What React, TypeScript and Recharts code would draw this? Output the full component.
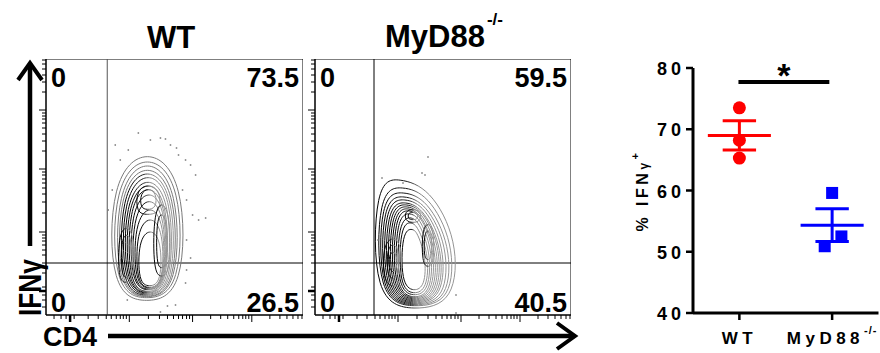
import React from 'react';
import {
  ComposedChart,
  Scatter,
  XAxis,
  YAxis,
  ReferenceLine,
  ReferenceArea,
} from 'recharts';

const FONT = '"Liberation Sans", Arial, Helvetica, sans-serif';

// ---- flow panels (channel units 0-256 on both axes) ----
const flowMajorTicks = [24, 83, 146, 205];
const flowMinorTicks = [
  8, 15, 20, 28, 42, 52, 60, 65, 70, 74, 77, 80,
  102, 113, 121, 127, 132, 136, 140, 143,
  164, 174, 181, 187, 192, 196, 199, 202,
  223, 233, 240, 246, 251, 255,
];
const flowTicks = [...flowMajorTicks, ...flowMinorTicks].sort((a, b) => a - b);

// contour rings (x = CD4, y = IFNγ)
const wtContours = [
  [[101, 169], [138, 137], [138, 22], [100, 11], [64, 22], [64, 137]],
  [[101, 163], [135, 133], [135, 24], [100, 14], [67, 24], [67, 133]],
  [[101, 159], [132, 129], [132, 25], [100, 15], [70, 25], [70, 129]],
  [[101, 154], [130, 126], [130, 25], [100, 16], [72, 25], [72, 126]],
  [[101, 150], [128, 123], [128, 26], [100, 17], [74, 26], [74, 123]],
  [[102, 146], [126, 120], [126, 27], [101, 18], [76, 27], [76, 120]],
  [[102, 141], [124, 116], [124, 28], [101, 19], [78, 28], [78, 116]],
  [[102, 137], [122, 113], [122, 28], [101, 20], [80, 28], [80, 113]],
  [[102, 133], [121, 110], [121, 29], [101, 21], [82, 29], [82, 110]],
  [[103, 127], [120, 106], [120, 30], [102, 23], [84, 30], [84, 106]],
  [[103, 120], [119, 100], [119, 30], [102, 24], [86, 30], [86, 100]],
  [[104, 111], [118, 93], [118, 31], [103, 25], [88, 31], [88, 93]],
  [[104, 100], [117, 85], [117, 31], [103, 26], [90, 31], [90, 85]],
  [[104, 87], [115, 75], [115, 32], [103, 28], [92, 32], [92, 75]],
  [[102, 131], [114, 125], [114, 102], [101, 100], [90, 102], [90, 125]],
  [[102, 127], [110, 122], [110, 107], [101, 105], [94, 107], [94, 122]],
  [[80, 90], [88, 80], [88, 36], [79, 31], [72, 36], [72, 80]],
  [[80, 82], [86, 75], [86, 40], [80, 36], [75, 40], [75, 75]],
  [[115, 115], [124, 100], [124, 43], [115, 37], [107, 43], [107, 100]],
  [[115, 103], [121, 94], [121, 50], [115, 46], [110, 50], [110, 94]],
];
const wtGrayRings = 4;

const wtOutliers = [
  [92, 182], [104, 175], [114, 177], [119, 176], [124, 170], [130, 167], [132, 160],
  [139, 155], [144, 150], [149, 140], [136, 125], [140, 115], [146, 100], [152, 95],
  [159, 97], [140, 75], [144, 57], [140, 45], [139, 32], [129, 10], [114, 3], [81, 15],
  [69, 170], [82, 165], [74, 155], [66, 125], [62, 105], [121, 9],
];

const myd88Contours = [
  [[84, 137], [115, 127], [143, 75], [140, 12], [99, 4], [58, 14], [60, 134]],
  [[87, 129], [113, 121], [139, 73], [137, 13], [99, 7], [62, 15], [63, 125]],
  [[88, 124], [112, 116], [136, 70], [134, 14], [99, 8], [64, 16], [65, 120]],
  [[89, 120], [111, 112], [133, 69], [131, 15], [99, 9], [66, 17], [67, 116]],
  [[90, 117], [110, 109], [130, 68], [128, 16], [99, 10], [68, 18], [69, 113]],
  [[91, 114], [109, 106], [128, 66], [126, 17], [99, 11], [70, 19], [71, 110]],
  [[92, 112], [109, 104], [126, 66], [124, 18], [99, 12], [72, 20], [73, 108]],
  [[93, 110], [108, 102], [124, 65], [122, 19], [99, 13], [74, 21], [75, 106]],
  [[94, 108], [107, 100], [122, 64], [120, 20], [99, 14], [76, 22], [77, 104]],
  [[95, 106], [107, 98], [120, 64], [118, 21], [99, 15], [78, 23], [79, 102]],
  [[96, 103], [106, 95], [118, 63], [116, 22], [99, 16], [80, 24], [81, 99]],
  [[97, 99], [105, 91], [116, 61], [114, 24], [99, 18], [82, 26], [83, 95]],
  [[97, 94], [104, 86], [114, 59], [112, 26], [99, 20], [84, 28], [85, 90]],
  [[98, 87], [103, 81], [111, 57], [110, 29], [99, 23], [86, 31], [87, 84]],
  [[98, 106], [106, 104], [106, 94], [98, 92], [90, 94], [90, 104]],
  [[98, 103], [103, 102], [103, 96], [98, 95], [93, 96], [93, 102]],
  [[78, 79], [87, 70], [87, 34], [78, 27], [68, 34], [68, 70]],
  [[78, 72], [84, 66], [84, 40], [78, 35], [72, 40], [72, 66]],
  [[78, 64], [82, 60], [82, 46], [78, 42], [74, 46], [74, 60]],
  [[113, 93], [119, 85], [119, 52], [113, 47], [107, 52], [107, 85]],
  [[113, 86], [117, 80], [117, 58], [113, 54], [109, 58], [109, 80]],
];
const myd88GrayRings = 0;

const myd88Outliers = [
  [113, 158], [107, 142], [110, 140], [67, 137], [88, 132], [141, 20], [141, 2], [63, 75],
];

const wtGate = { x: 61, y: 52 };
const myd88Gate = { x: 59, y: 52 };
const wtQuadrants = ['0', '73.5', '0', '26.5'];
const myd88Quadrants = ['0', '59.5', '0', '40.5'];

// ---- summary dot plot ----
const groupPositions = [1, 2];
const groupLabels = ['WT', 'MyD88'];
const groupSuperscripts = ['', '-/-'];
const wtValues = [73.5, 68.2, 65.3];
const wtX = [1, 1, 1];
const myd88Values = [59.6, 52.5, 50.9];
const myd88X = [2.0, 2.1, 1.92];
const yTicks = [40, 50, 60, 70, 80];
const sigBar = { from: 0.99, to: 1.97, y: 77.7 };

const toPoints = (ring: number[][]) => ring.map(([x, y]) => ({ x, y }));

const mean = (v: number[]) => v.reduce((a, b) => a + b, 0) / v.length;
const sem = (v: number[]) => {
  const m = mean(v);
  const sd = Math.sqrt(v.reduce((a, b) => a + (b - m) * (b - m), 0) / (v.length - 1));
  return sd / Math.sqrt(v.length);
};

const FlowTickX = (props: any) => {
  const { x, y, payload } = props;
  const major = flowMajorTicks.includes(payload.value);
  return (
    <line x1={x} x2={x} y1={y} y2={y + (major ? 7 : 4)} stroke="#000"
      strokeWidth={payload.value === 24 ? 2.5 : 1} />
  );
};

const FlowTickY = (props: any) => {
  const { x, y, payload } = props;
  const major = flowMajorTicks.includes(payload.value);
  return (
    <line x1={x - (major ? 7 : 4)} x2={x} y1={y} y2={y} stroke="#000"
      strokeWidth={payload.value === 24 ? 2.5 : 1} />
  );
};

const OutlierDot = (props: any) => (
  <rect x={props.cx - 0.75} y={props.cy - 0.75} width={1.5} height={1.5} fill="#777" />
);

const quadStyle = { fontFamily: FONT, fontWeight: 700, fontSize: 27, fill: '#000' };

const FlowPanel = ({ left, width, contours, grayRings, outliers, gate, quadrants, gradId, vGateColor }: any) => (
  <div style={{ position: 'absolute', left, top: 59 }}>
    <ComposedChart width={width} height={266} margin={{ top: 0, right: 0, bottom: 0, left: 0 }}>
      <defs>
        <linearGradient id={gradId} x1="0" y1="0" x2="1" y2="0">
          <stop offset="0%" stopColor="#000" />
          <stop offset="40%" stopColor="#1a1a1a" />
          <stop offset="56%" stopColor="#858585" />
          <stop offset="100%" stopColor="#959595" />
        </linearGradient>
      </defs>
      <XAxis
        type="number"
        dataKey="x"
        domain={[0, 256]}
        ticks={flowTicks}
        interval={0}
        tickSize={0}
        tickMargin={0}
        tickLine={false}
        tick={<FlowTickX />}
        height={10}
        axisLine={{ stroke: '#000' }}
        allowDataOverflow
      />
      <YAxis
        type="number"
        dataKey="y"
        domain={[0, 256]}
        ticks={flowTicks}
        interval={0}
        tickSize={0}
        tickMargin={0}
        tickLine={false}
        tick={<FlowTickY />}
        width={10}
        axisLine={{ stroke: '#000' }}
        allowDataOverflow
      />
      {contours.map((ring: number[][], i: number) => (
        <Scatter
          key={i}
          data={toPoints(ring)}
          line={{ stroke: i < grayRings ? '#7a7a7a' : `url(#${gradId})`, strokeWidth: 1 }}
          lineJointType="basisClosed"
          shape={() => <g />}
          isAnimationActive={false}
        />
      ))}
      <Scatter data={toPoints(outliers)} shape={<OutlierDot />} isAnimationActive={false} />
      <ReferenceLine x={gate.x} stroke={vGateColor} strokeWidth={1} />
      <ReferenceLine y={gate.y} stroke="#000" strokeWidth={1} />
      <ReferenceArea
        x1={0}
        x2={256}
        y1={0}
        y2={256}
        fill="none"
        fillOpacity={0}
        stroke="#000"
        strokeWidth={1}
        label={(p: any) => {
          const vb = p.viewBox;
          return (
            <g>
              <text x={vb.x + 5} y={vb.y + 28} {...quadStyle}>{quadrants[0]}</text>
              <text x={vb.x + vb.width - 4} y={vb.y + 28} textAnchor="end" {...quadStyle}>{quadrants[1]}</text>
              <text x={vb.x + 5} y={vb.y + vb.height - 3} {...quadStyle}>{quadrants[2]}</text>
              <text x={vb.x + vb.width - 4} y={vb.y + vb.height - 3} textAnchor="end" {...quadStyle}>{quadrants[3]}</text>
            </g>
          );
        }}
      />
    </ComposedChart>
  </div>
);

const GroupTick = (props: any) => {
  const { x, y, payload } = props;
  const i = groupPositions.indexOf(payload.value);
  return (
    <text x={x} y={y + 24} textAnchor="middle" fontFamily={FONT} fontWeight={700} fontSize={17}
      fill="#000" style={{ letterSpacing: 4.5 }}>
      {groupLabels[i]}
      {groupSuperscripts[i] && (
        <tspan fontSize={11} dy={-10} style={{ letterSpacing: 1 }}>{groupSuperscripts[i]}</tspan>
      )}
    </text>
  );
};

const ValueTick = (props: any) => {
  const { x, y, payload } = props;
  return (
    <text x={x} y={y} dy={7} textAnchor="end" fontFamily={FONT} fontWeight={700} fontSize={18}
      fill="#000" style={{ letterSpacing: 4 }}>
      {payload.value}
    </text>
  );
};

const meanSemLines = (center: number, values: number[], color: string, key: string) => {
  const m = mean(values);
  const s = sem(values);
  return [
    <ReferenceLine key={key + 'm'} segment={[{ x: center - 0.34, y: m }, { x: center + 0.34, y: m }]} stroke={color} strokeWidth={3} />,
    <ReferenceLine key={key + 'u'} segment={[{ x: center - 0.18, y: m + s }, { x: center + 0.18, y: m + s }]} stroke={color} strokeWidth={3} />,
    <ReferenceLine key={key + 'l'} segment={[{ x: center - 0.18, y: m - s }, { x: center + 0.18, y: m - s }]} stroke={color} strokeWidth={3} />,
    <ReferenceLine key={key + 'v'} segment={[{ x: center, y: m - s }, { x: center, y: m + s }]} stroke={color} strokeWidth={3} />,
  ];
};

const DotPlot = () => {
  const wtData = wtValues.map((v, i) => ({ x: wtX[i], y: v }));
  const myd88Data = myd88Values.map((v, i) => ({ x: myd88X[i], y: v }));
  return (
    <div style={{ position: 'absolute', left: 600, top: 40 }}>
      <ComposedChart width={280} height={313} margin={{ top: 28, right: 1.5, bottom: 0, left: 0 }}>
        <XAxis
          type="number"
          dataKey="x"
          domain={[0.5, 2.5]}
          ticks={groupPositions}
          interval={0}
          height={40}
          tickSize={7}
          tickMargin={0}
          tick={<GroupTick />}
          axisLine={{ stroke: '#000', strokeWidth: 3 }}
          tickLine={{ stroke: '#000', strokeWidth: 2.5 }}
        />
        <YAxis
          type="number"
          dataKey="y"
          domain={[40, 80]}
          ticks={yTicks}
          interval={0}
          width={93}
          tickSize={7}
          tickMargin={1}
          tick={<ValueTick />}
          axisLine={{ stroke: '#000', strokeWidth: 3 }}
          tickLine={{ stroke: '#000', strokeWidth: 2.5 }}
          label={(p: any) => {
            const vb = p.viewBox;
            const cx = vb.x + 48;
            const cy = vb.y + vb.height / 2;
            return (
              <text x={cx} y={cy} transform={`rotate(-90, ${cx}, ${cy})`} textAnchor="middle"
                fontFamily={FONT} fontWeight={700} fontSize={16} fill="#000" style={{ letterSpacing: 3.5 }}>
                % IFN<tspan fontSize={12}>γ</tspan>
                <tspan fontSize={11} dy={-9}>+</tspan>
              </text>
            );
          }}
        />
        {meanSemLines(1, wtValues, '#ff0000', 'wt')}
        {meanSemLines(2, myd88Values, '#0000ff', 'ko')}
        <ReferenceLine
          segment={[{ x: sigBar.from, y: sigBar.y }, { x: sigBar.to, y: sigBar.y }]}
          stroke="#000"
          strokeWidth={4}
          label={(p: any) => {
            const vb = p.viewBox;
            return (
              <text x={vb.x + vb.width / 2} y={vb.y + 5} textAnchor="middle" fontFamily={FONT}
                fontWeight={700} fontSize={34} fill="#000">*</text>
            );
          }}
        />
        <Scatter
          data={wtData}
          isAnimationActive={false}
          shape={(p: any) => <circle cx={p.cx} cy={p.cy} r={6.5} fill="#ff0000" />}
        />
        <Scatter
          data={myd88Data}
          isAnimationActive={false}
          shape={(p: any) => <rect x={p.cx - 6} y={p.cy - 6} width={12} height={12} fill="#0000ff" />}
        />
      </ComposedChart>
    </div>
  );
};

const Decorations = () => (
  <svg width={880} height={353} style={{ position: 'absolute', left: 0, top: 0, pointerEvents: 'none' }}>
    <text x={171} y={48} textAnchor="middle" fontFamily={FONT} fontWeight={700} fontSize={31} fill="#000">WT</text>
    <text x={385} y={47} fontFamily={FONT} fontWeight={700} fontSize={31} fill="#000">
      MyD88<tspan fontSize={17} dx={2} dy={-22}>-/-</tspan>
    </text>
    {/* IFNγ axis */}
    <line x1={30} y1={246} x2={30} y2={64} stroke="#000" strokeWidth={4.5} />
    <polyline points="18,80 30,63 42,80" fill="none" stroke="#000" strokeWidth={4} />
    <text transform="translate(41, 316) rotate(-90)" x={0} y={0} fontFamily={FONT} fontWeight={700}
      fontSize={31} fill="#000" textLength={57} lengthAdjust="spacingAndGlyphs">IFNγ</text>
    {/* CD4 axis */}
    <text x={43} y={346} fontFamily={FONT} fontWeight={700} fontSize={27} fill="#000">CD4</text>
    <line x1={108} y1={336} x2={574} y2={336} stroke="#000" strokeWidth={4.5} />
    <polyline points="557,323 575,336 557,349" fill="none" stroke="#000" strokeWidth={4} />
  </svg>
);

export default function App() {
  return (
    <div style={{ position: 'absolute', left: 0, top: 0, width: 880, height: 353, background: '#fff', overflow: 'hidden' }}>
      <FlowPanel left={36} width={267} contours={wtContours} grayRings={wtGrayRings} outliers={wtOutliers}
        gate={wtGate} quadrants={wtQuadrants} gradId="wtStroke" vGateColor="#555" />
      <FlowPanel left={305} width={266} contours={myd88Contours} grayRings={myd88GrayRings} outliers={myd88Outliers}
        gate={myd88Gate} quadrants={myd88Quadrants} gradId="koStroke" vGateColor="#000" />
      <DotPlot />
      <Decorations />
    </div>
  );
}
